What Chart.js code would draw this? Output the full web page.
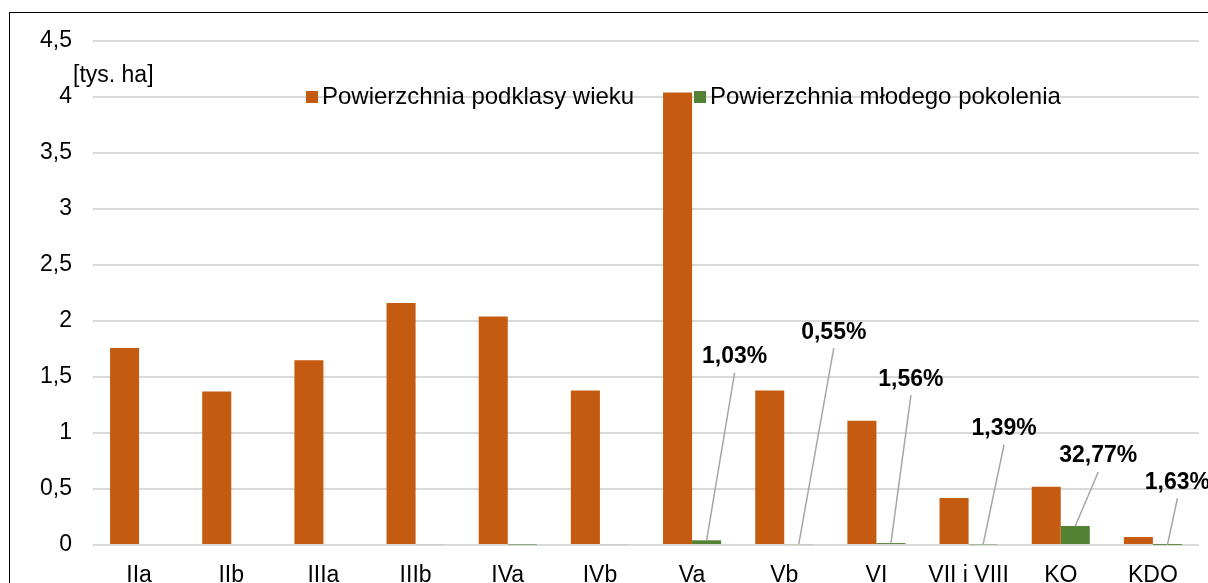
<!DOCTYPE html>
<html>
<head>
<meta charset="utf-8">
<script src="https://cdn.jsdelivr.net/npm/chart.js@4/dist/chart.umd.min.js"></script>
<style>
  html, body { margin: 0; padding: 0; background: #fff; }
  #wrap { position: relative; width: 1208px; height: 583px; }
</style>
</head>
<body>
<div id="wrap"><canvas id="ageChart"></canvas></div>
<script>
// Data
const ageClasses = ['IIa', 'IIb', 'IIIa', 'IIIb', 'IVa', 'IVb', 'Va', 'Vb', 'VI', 'VII i VIII', 'KO', 'KDO'];
const subclassArea = [1.76, 1.37, 1.65, 2.16, 2.04, 1.38, 4.04, 1.38, 1.11, 0.42, 0.52, 0.071];
const youngGenArea = [0, 0, 0, 0.008, 0.004, 0.008, 0.042, 0.0076, 0.017, 0.0058, 0.17, 0.0012];
const youngShare = ['', '', '', '', '', '', '1,03%', '0,55%', '1,56%', '1,39%', '32,77%', '1,63%'];
const yTicks = [0, 0.5, 1, 1.5, 2, 2.5, 3, 3.5, 4, 4.5];

const ORANGE = '#c55a11';
const GREEN = '#548235';
const FONT = "'Liberation Sans', Arial, sans-serif";

Chart.defaults.font.family = FONT;
Chart.defaults.font.size = 23;
Chart.defaults.color = '#000';

// label placement: dx in px from green bar, y in data units
const shareLabelPos = [null, null, null, null, null, null,
  { dx: 28, y: 1.68 }, { dx: 35, y: 1.90 }, { dx: 20, y: 1.48 },
  { dx: 21, y: 1.04 }, { dx: 23, y: 0.795 }, { dx: 10, y: 0.56 }];

const extras = {
  id: 'extras',
  beforeDraw(chart) {
    const c = chart.ctx;
    c.save();
    c.strokeStyle = '#000';
    c.lineWidth = 1;
    c.strokeRect(9.5, 12.5, 1400, 800);
    c.restore();
  },
  afterDraw(chart) {
    const c = chart.ctx;
    const y = chart.scales.y;
    const area = chart.chartArea;
    const green = chart.getDatasetMeta(1);
    c.save();

    // unit label
    c.font = '23px ' + FONT;
    c.fillStyle = '#000';
    c.textAlign = 'left';
    c.textBaseline = 'middle';
    c.fillText('[tys. ha]', area.left - 20, y.getPixelForValue(4.19));

    // legend
    const ly = y.getPixelForValue(4);
    let lx = area.left + 213;
    chart.data.datasets.forEach((ds, i) => {
      c.fillStyle = ds.backgroundColor;
      c.fillRect(lx, ly - 6, 12, 12);
      c.fillStyle = '#000';
      c.font = '24px ' + FONT;
      c.fillText(ds.label, lx + 16, ly);
      lx += 388;
    });

    // share labels with leader lines
    youngShare.forEach((txt, i) => {
      if (!txt) return;
      const bar = green.data[i];
      const p = shareLabelPos[i];
      const tx = bar.x + p.dx;
      const ty = y.getPixelForValue(p.y);
      c.strokeStyle = '#a6a6a6';
      c.lineWidth = 1.5;
      c.beginPath();
      c.moveTo(bar.x, bar.y);
      c.lineTo(tx, ty + 16);
      c.stroke();
      c.fillStyle = '#000';
      c.font = 'bold 23px ' + FONT;
      c.textAlign = 'center';
      c.fillText(txt, tx, ty);
    });
    c.restore();
  }
};

const ctx = document.getElementById('ageChart').getContext('2d');
new Chart(ctx, {
  type: 'bar',
  data: {
    labels: ageClasses,
    datasets: [{
      label: 'Powierzchnia podklasy wieku',
      data: subclassArea,
      backgroundColor: ORANGE
    }, {
      label: 'Powierzchnia młodego pokolenia',
      data: youngGenArea,
      backgroundColor: GREEN
    }]
  },
  options: {
    responsive: true,
    maintainAspectRatio: false,
    animation: false,
    categoryPercentage: 0.63,
    barPercentage: 1,
    layout: { padding: { top: 41, right: 9, left: 0, bottom: 0 } },
    plugins: {
      legend: { display: false },
      tooltip: { enabled: false }
    },
    scales: {
      x: {
        grid: { display: false },
        border: { display: false },
        ticks: { padding: 9, maxRotation: 0, autoSkip: false },
        afterFit(scale) { scale.height = 38; }
      },
      y: {
        min: 0,
        max: 4.5,
        afterBuildTicks(scale) { scale.ticks = yTicks.map(v => ({ value: v })); },
        ticks: {
          padding: 21,
          callback: v => String(v).replace('.', ',')
        },
        grid: { color: '#d9d9d9', lineWidth: 2, drawTicks: false },
        border: { display: false },
        afterFit(scale) { scale.width = 93; }
      }
    }
  },
  plugins: [extras]
});
</script>
</body>
</html>
